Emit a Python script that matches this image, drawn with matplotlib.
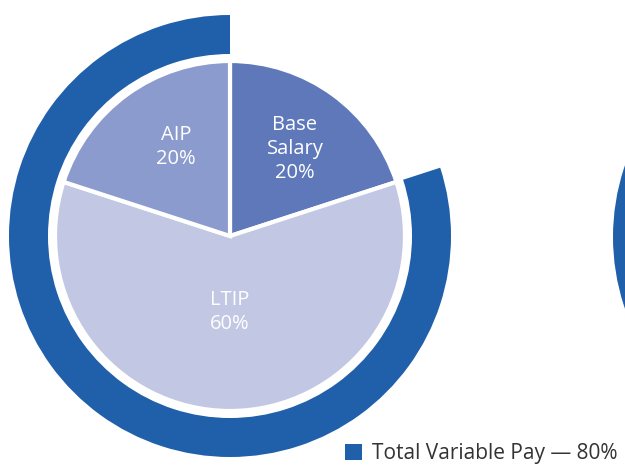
import matplotlib
matplotlib.use("Agg")
import matplotlib.pyplot as plt

# pie slices, clockwise from 12 o'clock
slice_labels = ["Base\nSalary\n20%", "LTIP\n60%", "AIP\n20%"]
slice_values = [20, 60, 20]
slice_colors = ["#5E78BA", "#C2C8E4", "#8C9BCE"]

# outer ring: fixed part left blank, variable part drawn
ring_values = [20, 80]
ring_label = "Total Variable Pay \u2014 80%"
ring_color = "#205FAA"

plt.rcParams["font.family"] = ["Open Sans", "DejaVu Sans"]

W, H = 625, 466
fig = plt.figure(figsize=(6.25, 4.66), dpi=100)
ax = fig.add_axes([0, 0, 1, 1])

center = (230, H - 236)
pie_r = 175
ring_r = 221
ring_w = 39

wedges, texts = ax.pie(slice_values, colors=slice_colors, startangle=90,
                       counterclock=False, center=center, radius=pie_r,
                       frame=True,
                       wedgeprops=dict(edgecolor="white", linewidth=3))

ring, _ = ax.pie(ring_values, colors=["none", ring_color], startangle=90,
                 counterclock=False, center=center, radius=ring_r, frame=True,
                 wedgeprops=dict(width=ring_w, edgecolor="none"))
ring[0].set_visible(False)

# neighbouring chart, only its left edge shows
ring2, _ = ax.pie(ring_values, colors=["none", ring_color], startangle=90,
                  counterclock=False, center=(834, H - 237), radius=ring_r,
                  frame=True, wedgeprops=dict(width=ring_w, edgecolor="none"))
ring2[0].set_visible(False)

# slice labels
label_pos = [(295, 149), (230, 312), (176, 147)]
for lab, (x, y) in zip(slice_labels, label_pos):
    ax.text(x, H - y, lab, ha="center", va="center", color="white",
            fontsize=14.5, linespacing=1.25)

ax.set_xlim(0, W)
ax.set_ylim(0, H)
ax.set_aspect("equal")
ax.axis("off")

fig.legend([ring[1]], [ring_label], loc="lower left",
           bbox_to_anchor=(326 / W, -0.036), frameon=False, fontsize=15,
           handlelength=0.85, handleheight=0.85, handletextpad=0.45,
           labelcolor="#333333")

fig.savefig("out.png", dpi=100)
plt.close("all")
